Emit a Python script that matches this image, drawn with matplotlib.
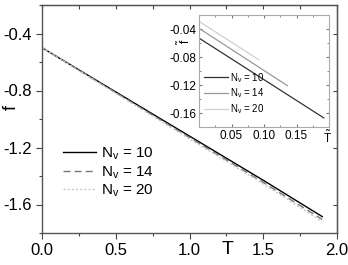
import numpy as np
import matplotlib.pyplot as plt
from matplotlib.ticker import MultipleLocator

plt.rcParams['font.family'] = ['Liberation Sans', 'DejaVu Sans']

# main panel data
T = [0.0, 0.5, 1.0, 1.5, 1.9]
f_10 = [-0.50, -0.81, -1.12, -1.43, -1.685]
f_14 = [-0.50, -0.815, -1.13, -1.445, -1.705]
f_20 = [-0.50, -0.82, -1.14, -1.455, -1.72]

# inset data
Tt_10 = [0.0, 0.192]
ft_10 = [-0.053, -0.167]
Tt_14 = [0.0, 0.136]
ft_14 = [-0.039, -0.121]
Tt_20 = [0.0, 0.092]
ft_20 = [-0.029, -0.084]

labels = ["N$_\\mathregular{v}$ = 10", "N$_\\mathregular{v}$ = 14", "N$_\\mathregular{v}$ = 20"]

fig = plt.figure(figsize=(3.48, 2.65), dpi=100)
ax = fig.add_axes([42/348, 1 - 233/265, 295/348, 228/265])

ax.plot(T, f_10, color="black", lw=1.0, label=labels[0])
ax.plot(T, f_14, color="#777777", lw=1.0, ls=(0, (5, 3)), label=labels[1])
ax.plot(T, f_20, color="#c8c8c8", lw=1.0, ls=(0, (1.5, 1.5)), label=labels[2])

ax.set_xlim(0, 2.0)
ax.set_ylim(-1.8, -0.2)
ax.xaxis.set_minor_locator(MultipleLocator(0.25))
ax.yaxis.set_minor_locator(MultipleLocator(0.2))
ax.set_xticks([0, 0.5, 1.0, 1.5, 2.0])
ax.set_xticklabels(["0.0", "0.5", "1.0", "1.5", "2.0"])
ax.set_yticks([-0.4, -0.8, -1.2, -1.6])
ax.set_yticklabels(["-0.4", "-0.8", "-1.2", "-1.6"])
ax.tick_params(which="both", direction="out", labelsize=12, color="#444444", width=0.8)
ax.tick_params(which="major", length=4)
ax.tick_params(which="minor", length=2.5)
for s in ax.spines.values():
    s.set_color("#555555")
    s.set_linewidth(1.0)

ax2 = ax.secondary_xaxis("top")
ax2.set_xticks(np.arange(0, 2.01, 0.25))
ax2.tick_params(direction="in", length=3, labeltop=False, color="#444444")
ay2 = ax.secondary_yaxis("right")
ay2.set_yticks([-0.4, -0.8, -1.2, -1.6])
ay2.tick_params(direction="in", length=3, labelright=False, color="#444444")

ax.set_ylabel("f", fontsize=13)
ax.yaxis.set_label_coords(-22/295, 0.55)
ax.set_xlabel("T", fontsize=14)
ax.xaxis.set_label_coords(1.255/2.0, -0.035)

ax.legend(loc="upper left", bbox_to_anchor=(0.05, 0.41), frameon=False,
          fontsize=11, handlelength=2.2, handletextpad=0.3, labelspacing=0.12,
          borderaxespad=0)

# inset
ins = fig.add_axes([199/348, 1 - 127/265, 130/348, 112/265])
ins.plot(Tt_10, ft_10, color="#333333", lw=0.9, label=labels[0])
ins.plot(Tt_14, ft_14, color="#999999", lw=0.9, label=labels[1])
ins.plot(Tt_20, ft_20, color="#d0d0d0", lw=0.9, label=labels[2])
ins.set_xlim(0, 0.2)
ins.set_ylim(-0.18, -0.02)
ins.set_xticks([0.05, 0.10, 0.15])
ins.set_xticklabels(["0.05", "0.10", "0.15"])
ins.xaxis.set_minor_locator(MultipleLocator(0.025))
ins.set_yticks([-0.04, -0.08, -0.12, -0.16])
ins.set_yticklabels(["-0.04", "-0.08", "-0.12", "-0.16"])
ins.yaxis.set_minor_locator(MultipleLocator(0.02))
ins.tick_params(which="both", direction="in", top=True, right=True,
                labelsize=8.5, color="#777777", pad=2)
ins.tick_params(which="major", length=2.5)
ins.tick_params(which="minor", length=1.5)
for s in ins.spines.values():
    s.set_color("#aaaaaa")
    s.set_linewidth(0.8)
ins.text(0.197, -0.184, "$\\tilde{\\mathregular{T}}$", fontsize=8.5, ha="center", va="top")
ins.text(-0.022, -0.058, "$\\tilde{\\mathregular{f}}$", fontsize=8.5, ha="center", va="center", rotation=90)
ins.legend(loc="center left", bbox_to_anchor=(0.01, 0.30), frameon=False,
           fontsize=7, handlelength=2.4, handletextpad=0.3, labelspacing=0.2,
           borderaxespad=0)

fig.savefig("out.png", dpi=100)
